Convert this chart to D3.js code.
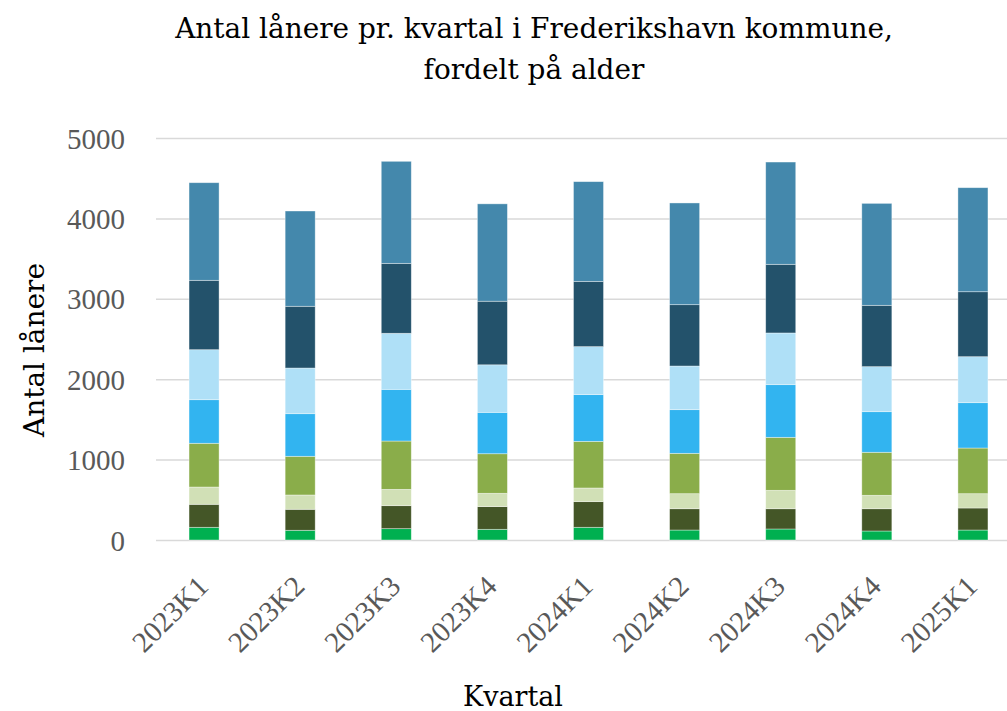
<!DOCTYPE html>
<html lang="da">
<head>
<meta charset="utf-8">
<title>Antal lånere pr. kvartal</title>
<script src="https://cdn.jsdelivr.net/npm/d3@7"></script>
<style>
  body { margin: 0; background: #fff; }
  text { font-family: "Liberation Serif", serif; }
  .lbl { font-family: "DejaVu Serif", serif; }
</style>
</head>
<body>
<svg id="chart"></svg>
<script>
// kvartaler
var quarters = ["2023K1","2023K2","2023K3","2023K4","2024K1","2024K2","2024K3","2024K4","2025K1"];
// aldersgrupper, nederst til øverst
var ageGroups = ["0-6 år","7-12 år","13-17 år","18-29 år","30-44 år","45-59 år","60-74 år","75+ år"];
var colors = ["#00b050","#445627","#d1e0b6","#8aad4a","#32b4f0","#afe0f7","#23526b","#4488ac"];

var age0  = [158,121,141,133,158,124,137,112,124];
var age7  = [286,261,286,282,319,265,252,277,274];
var age13 = [215,178,203,166,170,187,229,167,178];
var age18 = [544,481,601,492,580,502,659,535,568];
var age30 = [542,530,643,515,581,543,655,505,564];
var age45 = [622,568,697,591,597,543,643,560,572];
var age60 = [863,768,870,791,812,763,854,763,808];
var age75 = [1214,1185,1269,1211,1240,1265,1272,1268,1294];
var yTicks = [0,1000,2000,3000,4000,5000];

var series = [age0,age7,age13,age18,age30,age45,age60,age75];

var width = 1007, height = 711;
var margin = {left:156, right:1021, top:138, bottom:540};

var rows = quarters.map(function(q,i){
  var r = {q:q};
  ageGroups.forEach(function(g,j){ r[g] = series[j][i]; });
  return r;
});

var svg = d3.select("#chart").attr("width",width).attr("height",height);

var x = d3.scaleBand().domain(quarters).range([margin.left,margin.right]).paddingInner(0.6875).paddingOuter(0.34375);
var y = d3.scaleLinear().domain([0,5000]).range([margin.bottom,margin.top]);

// gitterlinjer
svg.append("g")
   .attr("transform","translate("+margin.left+",0)")
   .call(d3.axisLeft(y).tickValues(yTicks).tickSize(-(margin.right-margin.left)).tickFormat(""))
   .call(function(g){
     g.select(".domain").remove();
     g.selectAll("line").attr("stroke","#d9d9d9").attr("stroke-width",1.5);
   });

var stack = d3.stack().keys(ageGroups)(rows);

svg.append("g").selectAll("g")
   .data(stack)
   .enter()
   .append("g")
   .attr("fill",function(d,i){ return colors[i]; })
   .selectAll("rect")
   .data(function(d){ return d; })
   .enter()
   .append("rect")
   .attr("x",function(d){ return x(d.data.q); })
   .attr("width",x.bandwidth())
   .attr("y",function(d){ return y(d[1]); })
   .attr("height",function(d){ return y(d[0])-y(d[1]); })
   .attr("stroke","#ffffff")
   .attr("stroke-opacity",0.5)
   .attr("stroke-width",0.75);

// y-akse tal
svg.append("g")
   .attr("transform","translate(125,0)")
   .call(d3.axisLeft(y).tickValues(yTicks).tickSize(0).tickPadding(0).tickFormat(d3.format("d")))
   .call(function(g){
     g.select(".domain").remove();
     g.selectAll("text")
      .attr("font-size",29)
      .attr("fill","#595959")
      .attr("dy","0.35em")
      .style("font-family","Liberation Serif");
   });

// x-akse tal
svg.append("g")
   .attr("transform","translate(0,"+margin.bottom+")")
   .call(d3.axisBottom(x).tickSize(0).tickPadding(0))
   .call(function(g){
     g.select(".domain").remove();
     g.selectAll("text")
      .attr("font-size",29)
      .attr("fill","#595959")
      .attr("text-anchor","end")
      .attr("dy",0)
      .attr("y",0)
      .attr("transform","translate(6,48) rotate(-45)")
      .style("font-family","Liberation Serif");
   });

// tekst tilpasset til bredden i forlaegget
function fit(sel, target){
  var w = sel.node().getComputedTextLength();
  var fs = parseFloat(sel.attr("font-size"));
  sel.attr("font-size", fs*target/w);
}

var title = svg.append("text")
   .attr("class","lbl")
   .attr("x",534).attr("y",38)
   .attr("text-anchor","middle")
   .attr("font-size",28)
   .attr("fill","#000");
var t1 = title.append("tspan").attr("x",534).text("Antal lånere pr. kvartal i Frederikshavn kommune,");
title.append("tspan").attr("x",534).attr("y",79).text("fordelt på alder");
var tw = t1.node().getComputedTextLength();
title.attr("font-size", 28*718/tw);

var yt = svg.append("text")
   .attr("class","lbl")
   .attr("transform","translate(44,350) rotate(-90)")
   .attr("text-anchor","middle")
   .attr("font-size",28)
   .attr("fill","#000")
   .text("Antal lånere");
fit(yt,174);

var xt = svg.append("text")
   .attr("class","lbl")
   .attr("x",513).attr("y",706)
   .attr("text-anchor","middle")
   .attr("font-size",28)
   .attr("fill","#000")
   .text("Kvartal");
fit(xt,100);
</script>
</body>
</html>
